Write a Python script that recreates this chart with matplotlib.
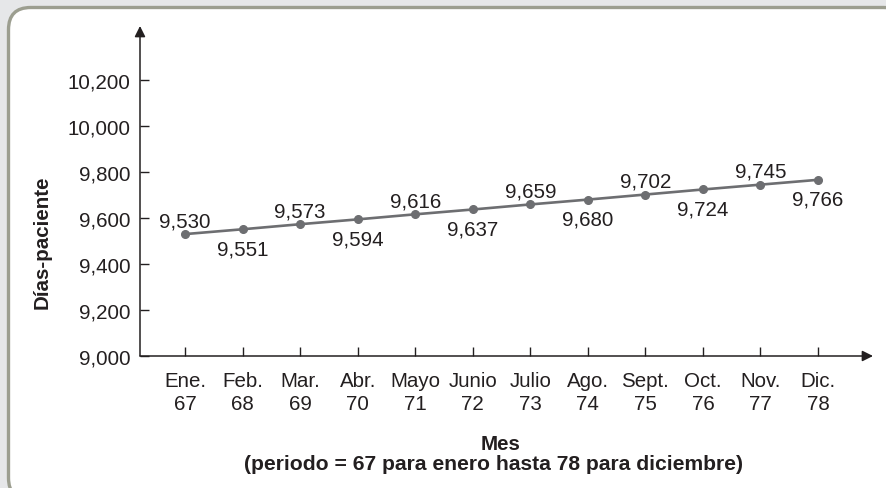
import matplotlib
matplotlib.use("Agg")
import matplotlib.pyplot as plt
from matplotlib.patches import FancyBboxPatch

plt.rcParams['font.family'] = ['Liberation Sans', 'DejaVu Sans']

# Monthly patient-days, periods 67..78
months = ["Ene.", "Feb.", "Mar.", "Abr.", "Mayo", "Junio", "Julio",
          "Ago.", "Sept.", "Oct.", "Nov.", "Dic."]
periods = [67, 68, 69, 70, 71, 72, 73, 74, 75, 76, 77, 78]
patient_days = [9530, 9551, 9573, 9594, 9616, 9637, 9659,
                9680, 9702, 9724, 9745, 9766]
y_ticks = [9000, 9200, 9400, 9600, 9800, 10000, 10200]

W, H, DPI = 887, 489, 100
FS = 14.8
fig = plt.figure(figsize=(W / DPI, H / DPI), dpi=DPI)
fig.patch.set_facecolor("#e6e7e9")

# Rounded white panel with grey border (runs off the right/bottom edges)
panel = FancyBboxPatch((8.5 / W, -12 / H), (W + 10) / W, (H - 8.5 + 12) / H,
                       boxstyle="round,pad=0,rounding_size=0.025",
                       transform=fig.transFigure, facecolor="white",
                       edgecolor="#9c9e90", linewidth=2.4, zorder=-5,
                       mutation_aspect=W / H)
fig.patches.append(panel)

ink = "#231f20"
ax = fig.add_axes([140 / W, 132 / H, (873 - 140) / W, (462 - 132) / H])
ax.set_zorder(2)
ax.set_facecolor("none")

x = list(range(1, len(months) + 1))
ax.plot(x, patient_days, color="#6d6e71", lw=1.9, marker="o",
        markersize=5.5, zorder=3)

for i, (xi, v) in enumerate(zip(x, patient_days)):
    dy = 9.5 if i % 2 == 0 else -14
    ax.annotate(f"{v:,}", (xi, v), xytext=(0, dy), textcoords="offset points",
                ha="center", va="center", fontsize=FS, color=ink)

ax.set_xlim(1 - 45 / 57.5, 12 + 55 / 57.5)
ax.set_ylim(9000, 9000 + (357 - 27) / 46 * 200)

ax.set_xticks(x)
ax.set_xticklabels([f"{m}\n{p}" for m, p in zip(months, periods)],
                   fontsize=FS, color=ink, linespacing=1.22)
ax.set_yticks(y_ticks)
ax.set_yticklabels([f"{t:,}" for t in y_ticks], fontsize=FS, color=ink)
ax.tick_params(axis="both", direction="in", length=6.5, width=1.0,
               color=ink)
ax.tick_params(axis="x", pad=11)
ax.tick_params(axis="y", pad=7)

for s in ax.spines.values():
    s.set_visible(False)

# Axis lines with arrowheads
ax.annotate("", xy=(0, 1), xytext=(0, 0), xycoords="axes fraction",
            arrowprops=dict(arrowstyle="-|>", color=ink, lw=1.1,
                            mutation_scale=16, shrinkA=0, shrinkB=0))
ax.annotate("", xy=(1, 0), xytext=(0, 0), xycoords="axes fraction",
            arrowprops=dict(arrowstyle="-|>", color=ink, lw=1.1,
                            mutation_scale=16, shrinkA=0, shrinkB=0))

fig.text(42 / W, 1 - 242 / H, "Días-paciente", rotation=90, ha="center",
         va="center", fontsize=FS, fontweight="bold", color=ink)
fig.text(501 / W, 1 - 445 / H, "Mes", ha="center", va="center",
         fontsize=FS, fontweight="bold", color=ink)
fig.text(494 / W, 1 - 465 / H,
         "(periodo = 67 para enero hasta 78 para diciembre)",
         ha="center", va="center", fontsize=15.2, fontweight="bold", color=ink)

fig.savefig("out.png", dpi=DPI)
